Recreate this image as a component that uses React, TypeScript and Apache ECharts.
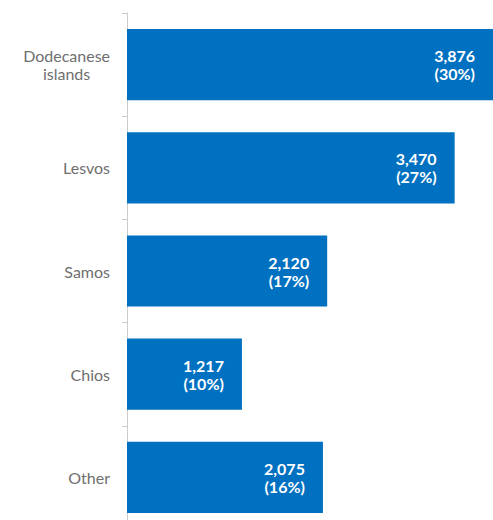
import React, { useEffect, useRef } from "react";
import * as echarts from "echarts";

const categories = ["Dodecanese islands", "Lesvos", "Samos", "Chios", "Other"];
const values = [3876, 3470, 2120, 1217, 2075];
const percents = [30, 27, 17, 10, 16];

export default function App() {
  const ref = useRef<HTMLDivElement>(null);
  useEffect(() => {
    if (!ref.current) return;
    const chart = echarts.init(ref.current, undefined, { renderer: "svg" });
    chart.setOption({
      animation: false,
      backgroundColor: "#ffffff",
      grid: { left: 127, right: 0, top: 13, height: 516, containLabel: false },
      xAxis: { type: "value", min: 0, max: 3876, show: false },
      yAxis: {
        type: "category",
        inverse: true,
        data: categories,
        axisLine: { show: true, lineStyle: { color: "#cccccc", width: 1 } },
        axisTick: { show: true, length: 5, lineStyle: { color: "#cccccc" } },
        axisLabel: {
          margin: 17,
          color: "#6f6f6f",
          fontFamily: "Lato",
          fontSize: 16,
          lineHeight: 18,
          formatter: (v: string) => {
            if (v === "Dodecanese islands") return "{c|Dodecanese}\n{c|islands}";
            return v;
          },
          rich: {
            c: { align: "center", color: "#6f6f6f", fontFamily: "Lato", fontSize: 16, lineHeight: 18 },
          },
        },
      },
      series: [
        {
          type: "bar",
          data: values,
          barCategoryGap: "31%",
          itemStyle: { color: "#0070c0" },
          label: {
            show: true,
            position: "insideRight",
            distance: 18,
            color: "#ffffff",
            fontFamily: "Lato",
            fontWeight: "bold",
            fontSize: 16,
            lineHeight: 18,
            align: "right",
            formatter: (p: any) =>
              p.value.toLocaleString("en-US") + "\n(" + percents[p.dataIndex] + "%)",
          },
        },
      ],
    });
    return () => chart.dispose();
  }, []);
  return (
    <div style={{ position: "absolute", left: 0, top: 0, width: 493, height: 520, overflow: "hidden", background: "#fff" }}>
      <div ref={ref} style={{ width: 493, height: 540 }} />
    </div>
  );
}
